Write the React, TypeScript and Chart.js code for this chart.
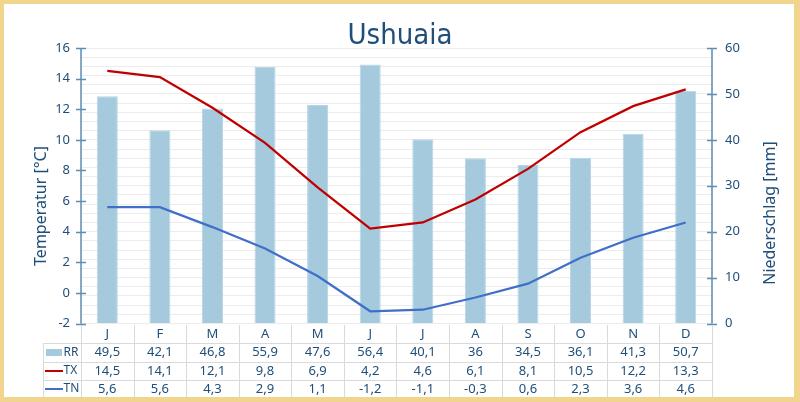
import React, { useEffect, useRef } from 'react';
import { Chart, registerables } from 'chart.js';

Chart.register(...registerables);

// ---- data ----
const months = ['J', 'F', 'M', 'A', 'M', 'J', 'J', 'A', 'S', 'O', 'N', 'D'];
const rrValues = [49.5, 42.1, 46.8, 55.9, 47.6, 56.4, 40.1, 36, 34.5, 36.1, 41.3, 50.7];
const txValues = [14.5, 14.1, 12.1, 9.8, 6.9, 4.2, 4.6, 6.1, 8.1, 10.5, 12.2, 13.3];
const tnValues = [5.6, 5.6, 4.3, 2.9, 1.1, -1.2, -1.1, -0.3, 0.6, 2.3, 3.6, 4.6];
const seriesNames = ['RR', 'TX', 'TN'];
const titleText = 'Ushuaia';
const leftAxisTitle = 'Temperatur [°C]';
const rightAxisTitle = 'Niederschlag [mm]';
const tempMin = -2;
const tempMax = 16;
const tempStep = 2;
const precipMin = 0;
const precipMax = 60;
const precipMajor = 10;
const precipMinor = 2;

// ---- styles ----
const BAR = '#A5CADD';
const RED = '#C00000';
const BLUE = '#3F6FC6';
const AXIS = '#5E8DB3';
const TEXT = '#1F4E79';
const GRID = '#ECECEC';
const TABLE = '#DADADA';
const FONT = '"Noto Sans", "Open Sans", sans-serif';

const fmt = (v: number) => String(v).replace('.', ',');

const overlayPlugin = {
  id: 'overlay',
  afterDraw(chart: any) {
    const ctx = chart.ctx as CanvasRenderingContext2D;
    const { left, right, top, bottom } = chart.chartArea;
    const xs = chart.scales.x;
    const ys = chart.scales.y;
    const y2s = chart.scales.y2;
    ctx.save();

    // axis lines + crossing tick marks
    ctx.strokeStyle = AXIS;
    ctx.lineWidth = 1.5;
    ctx.beginPath();
    ctx.moveTo(left, top);
    ctx.lineTo(left, bottom);
    ctx.moveTo(right, top);
    ctx.lineTo(right, bottom);
    for (let v = tempMin; v <= tempMax; v += tempStep) {
      const py = Math.round(ys.getPixelForValue(v)) + 0.5;
      ctx.moveTo(left - 5, py);
      ctx.lineTo(left + 5, py);
    }
    for (let v = precipMin; v <= precipMax; v += precipMajor) {
      const py = Math.round(y2s.getPixelForValue(v)) + 0.5;
      ctx.moveTo(right - 5, py);
      ctx.lineTo(right + 5, py);
    }
    ctx.stroke();

    // title
    ctx.fillStyle = TEXT;
    ctx.textAlign = 'center';
    ctx.textBaseline = 'alphabetic';
    ctx.font = '29px "DejaVu Sans Condensed", "DejaVu Sans", sans-serif';
    ctx.fillText(titleText, 400, 44);

    // axis titles
    ctx.font = '16px ' + FONT;
    ctx.textBaseline = 'middle';
    ctx.save();
    ctx.translate(41, 206);
    ctx.rotate(-Math.PI / 2);
    ctx.fillText(leftAxisTitle, 0, 0);
    ctx.restore();
    ctx.save();
    ctx.translate(770, 213);
    ctx.rotate(-Math.PI / 2);
    ctx.fillText(rightAxisTitle, 0, 0);
    ctx.restore();

    // data table
    const n = months.length;
    const half = (xs.getPixelForValue(1) - xs.getPixelForValue(0)) / 2;
    const tableTop = bottom + 1.5;
    const rowLines = [343, 361.5, 380, 397];
    const legendLeft = 43;
    ctx.strokeStyle = TABLE;
    ctx.lineWidth = 1;
    ctx.beginPath();
    for (let i = 0; i <= n; i++) {
      const px = Math.round(i < n ? xs.getPixelForValue(i) - half : xs.getPixelForValue(n - 1) + half) + 0.5;
      ctx.moveTo(px, tableTop);
      ctx.lineTo(px, rowLines[3]);
    }
    for (const ry of rowLines) {
      ctx.moveTo(legendLeft, Math.round(ry) + 0.5);
      ctx.lineTo(right, Math.round(ry) + 0.5);
    }
    ctx.moveTo(legendLeft + 0.5, rowLines[0]);
    ctx.lineTo(legendLeft + 0.5, rowLines[3]);
    ctx.stroke();

    ctx.fillStyle = TEXT;
    ctx.textAlign = 'center';
    ctx.textBaseline = 'middle';
    ctx.font = '13px ' + FONT;
    const rows = [rrValues, txValues, tnValues];
    const rowCenters = [352.5, 371, 389];
    for (let i = 0; i < n; i++) {
      const cx = xs.getPixelForValue(i);
      ctx.fillText(months[i], cx, 334);
      rows.forEach((r, k) => ctx.fillText(fmt(r[i]), cx, rowCenters[k]));
    }

    // legend keys
    ctx.fillStyle = BAR;
    ctx.fillRect(46, 349, 16, 7);
    ctx.lineWidth = 2;
    ctx.strokeStyle = RED;
    ctx.beginPath();
    ctx.moveTo(45, 371);
    ctx.lineTo(63, 371);
    ctx.stroke();
    ctx.strokeStyle = BLUE;
    ctx.beginPath();
    ctx.moveTo(45, 389);
    ctx.lineTo(63, 389);
    ctx.stroke();
    ctx.fillStyle = TEXT;
    ctx.textAlign = 'left';
    ctx.font = '12px ' + FONT;
    seriesNames.forEach((s, k) => ctx.fillText(s, 63.5, rowCenters[k]));

    ctx.restore();
  },
};

export default function App() {
  const ref = useRef<HTMLCanvasElement>(null);

  useEffect(() => {
    if (!ref.current) return;
    const chart = new Chart(ref.current, {
      type: 'bar',
      data: {
        labels: months,
        datasets: [
          {
            type: 'line',
            label: 'TX',
            data: txValues,
            yAxisID: 'y',
            borderColor: RED,
            borderWidth: 2.25,
            pointRadius: 0,
            tension: 0,
            order: 1,
          } as any,
          {
            type: 'line',
            label: 'TN',
            data: tnValues,
            yAxisID: 'y',
            borderColor: BLUE,
            borderWidth: 2.25,
            pointRadius: 0,
            tension: 0,
            order: 1,
          } as any,
          {
            type: 'bar',
            label: 'RR',
            data: rrValues,
            yAxisID: 'y2',
            backgroundColor: BAR,
            borderColor: '#B6D5E5',
            borderWidth: 1,
            barPercentage: 0.4,
            categoryPercentage: 1,
            order: 2,
          },
        ],
      },
      options: {
        responsive: false,
        animation: false,
        layout: { padding: { top: 48, bottom: 78.5, left: 0, right: 0 } },
        plugins: {
          legend: { display: false },
          tooltip: { enabled: false },
          title: { display: false },
        },
        scales: {
          x: {
            display: false,
            offset: true,
          },
          y: {
            position: 'left',
            min: tempMin,
            max: tempMax,
            grid: { display: false, drawTicks: false },
            border: { display: false },
            ticks: {
              stepSize: tempStep,
              color: TEXT,
              padding: 11,
              font: { family: FONT, size: 13 },
            },
            afterFit: (s: any) => {
              s.width = 81;
            },
          },
          y2: {
            position: 'right',
            min: precipMin,
            max: precipMax,
            grid: { color: GRID, drawTicks: false, lineWidth: 1 },
            border: { display: false },
            ticks: {
              stepSize: precipMinor,
              autoSkip: false,
              color: TEXT,
              padding: 13,
              font: { family: FONT, size: 13 },
              callback: (v: any) => (Number(v) % precipMajor === 0 ? String(v) : ''),
            },
            afterFit: (s: any) => {
              s.width = 88;
            },
          },
        },
      } as any,
      plugins: [overlayPlugin],
    });
    return () => chart.destroy();
  }, []);

  return (
    <div style={{ position: 'fixed', left: 0, top: 0, width: 800, height: 402, background: '#fff' }}>
      <canvas ref={ref} width={800} height={402} style={{ position: 'absolute', left: 0, top: 0 }} />
      <div
        style={{
          position: 'absolute',
          left: 0,
          top: 0,
          width: 800,
          height: 402,
          boxSizing: 'border-box',
          borderStyle: 'solid',
          borderColor: '#F2D58C',
          borderWidth: '4px 6px 5px 4px',
          pointerEvents: 'none',
        }}
      />
    </div>
  );
}
